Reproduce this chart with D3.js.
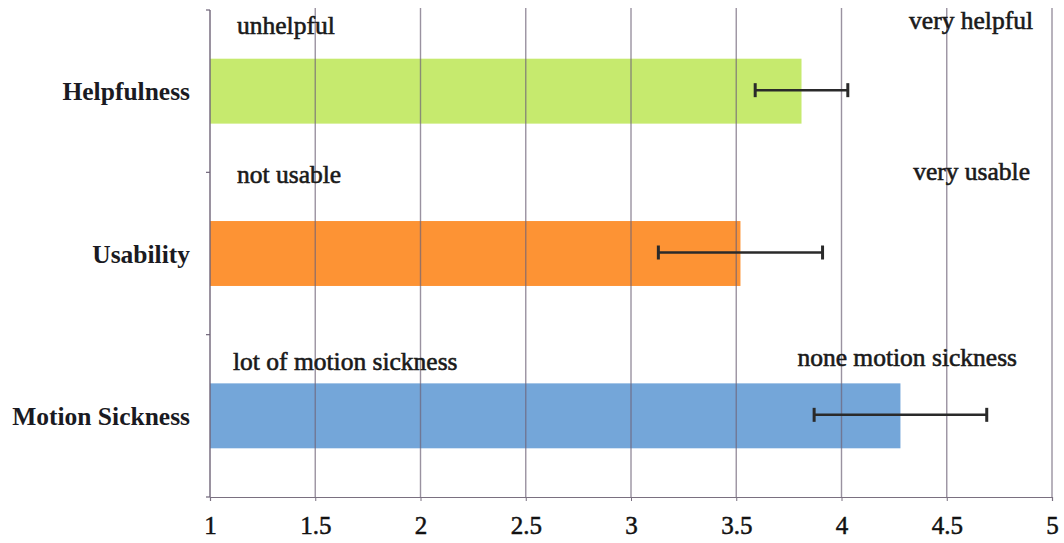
<!DOCTYPE html>
<html><head><meta charset="utf-8">
<script src="https://cdn.jsdelivr.net/npm/d3@7"></script>
<style>body{margin:0;background:#fff}svg{display:block}</style>
</head><body><svg id="c" width="1064" height="543"></svg>
<script>
const categories = ["Helpfulness", "Usability", "Motion Sickness"];
const means = [3.81, 3.52, 4.28];
const errors = [0.22, 0.39, 0.41];
const colors = ["#c6ea6e", "#fd9334", "#74a6d9"];
const lowLabels = ["unhelpful", "not usable", "lot of motion sickness"];
const highLabels = ["very helpful", "very usable", "none motion sickness"];
const xTicks = [1, 1.5, 2, 2.5, 3, 3.5, 4, 4.5, 5];

const svg = d3.select("#c");
const x = d3.scaleLinear().domain([1, 5]).range([210, 1052]);
const y = d3.scaleBand().domain(categories).range([10, 497]).paddingInner(0.6).paddingOuter(0.3);
const band = d3.scaleBand().domain(categories).range([10, 497]);
const font = "'Liberation Serif', 'Times New Roman', serif";

// bars
svg.selectAll("rect.bar").data(categories).join("rect")
  .attr("x", x(1)).attr("y", d => y(d))
  .attr("width", (d, i) => x(means[i]) - x(1))
  .attr("height", y.bandwidth())
  .attr("fill", (d, i) => colors[i]);

// gridlines
svg.selectAll("line.grid").data(xTicks.slice(1)).join("line")
  .attr("x1", d => x(d)).attr("x2", d => x(d))
  .attr("y1", 8).attr("y2", 497)
  .attr("stroke", "#6f6478").attr("stroke-opacity", 0.7).attr("stroke-width", 1.4);

// x axis
const xa = svg.append("g").attr("transform", "translate(0,497)")
  .call(d3.axisBottom(x).tickValues(xTicks).tickFormat(d3.format("")).tickSize(4).tickPadding(15));
xa.select(".domain").attr("stroke", "#7a7080").attr("stroke-width", 1.2);
xa.selectAll(".tick line").attr("stroke", "#7a7080");
xa.selectAll("text").attr("font-family", font).attr("font-size", 25).attr("fill", "#111")
  .attr("stroke", "#111").attr("stroke-width", 0.5);

// y axis (left line with ticks at band boundaries)
svg.append("line").attr("x1", x(1)).attr("x2", x(1)).attr("y1", 10).attr("y2", 497)
  .attr("stroke", "#6f6478").attr("stroke-width", 1.4);
const bounds = categories.map(c => band(c)).concat([band(categories[2]) + band.bandwidth()]);
svg.selectAll("line.ytick").data(bounds).join("line")
  .attr("x1", x(1) - 4).attr("x2", x(1)).attr("y1", d => d).attr("y2", d => d)
  .attr("stroke", "#6f6478").attr("stroke-width", 1.2);

// category labels
svg.selectAll("text.cat").data(categories).join("text")
  .attr("x", 190).attr("y", d => y(d) + y.bandwidth() / 2 + 9)
  .attr("text-anchor", "end").attr("font-family", font).attr("font-weight", "bold")
  .attr("font-size", 25.5).attr("fill", "#1a1a22").text(d => d);

// error bars
const eg = svg.selectAll("g.err").data(categories).join("g")
  .attr("transform", d => `translate(0,${y(d) + y.bandwidth() / 2 - 1})`);
eg.append("line").attr("x1", (d, i) => x(means[i] - errors[i])).attr("x2", (d, i) => x(means[i] + errors[i]))
  .attr("stroke", "#2a2a2a").attr("stroke-width", 2.5);
eg.append("line").attr("x1", (d, i) => x(means[i] - errors[i])).attr("x2", (d, i) => x(means[i] - errors[i]))
  .attr("y1", -7).attr("y2", 7).attr("stroke", "#2a2a2a").attr("stroke-width", 3);
eg.append("line").attr("x1", (d, i) => x(means[i] + errors[i])).attr("x2", (d, i) => x(means[i] + errors[i]))
  .attr("y1", -7).attr("y2", 7).attr("stroke", "#2a2a2a").attr("stroke-width", 3);

// scale-end annotations
const lowX = [237, 237, 233];
const lowDy = [-25, -38, -13];
svg.selectAll("text.low").data(categories).join("text")
  .attr("x", (d, i) => lowX[i]).attr("y", (d, i) => y(d) + lowDy[i])
  .attr("font-family", font).attr("font-size", 25.5).attr("fill", "#1a1a1a")
  .attr("stroke", "#1a1a1a").attr("stroke-width", 0.6)
  .text((d, i) => lowLabels[i]);
const highEnd = [1033, 1030, 1017];
const highDy = [-30, -41, -17];
svg.selectAll("text.high").data(categories).join("text")
  .attr("x", (d, i) => highEnd[i]).attr("y", (d, i) => y(d) + highDy[i])
  .attr("text-anchor", "end")
  .attr("font-family", font).attr("font-size", 25.5).attr("fill", "#1a1a1a")
  .attr("stroke", "#1a1a1a").attr("stroke-width", 0.6)
  .text((d, i) => highLabels[i]);
</script></body></html>
